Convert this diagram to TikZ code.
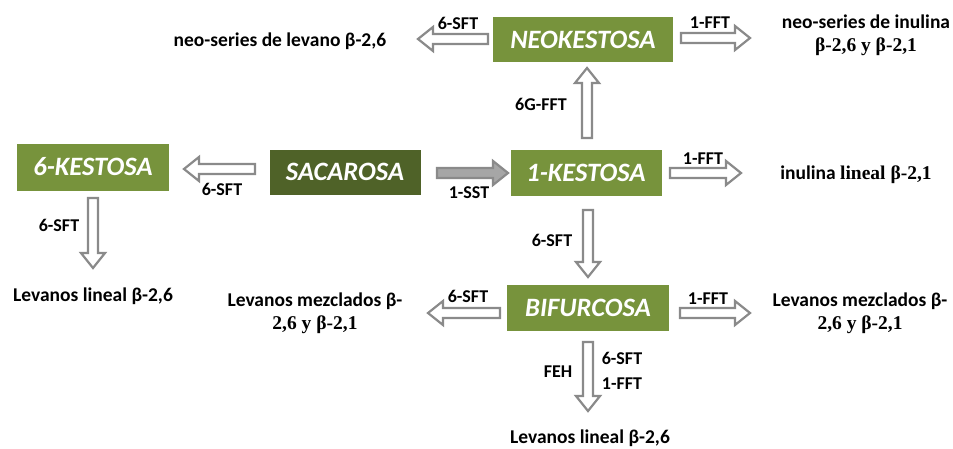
\documentclass[tikz,border=0pt]{standalone}
\usepackage{fontspec}
\setmainfont{Carlito}
\newfontfamily\serifb{Liberation Serif}
\usetikzlibrary{calc}
\definecolor{lgreen}{HTML}{77933C}
\definecolor{dgreen}{HTML}{4F6228}
\definecolor{agray}{HTML}{8A8A8A}
\definecolor{afill}{HTML}{A6A6A6}
\newcommand{\blockarrow}[3][]{%
  \draw[barrow,#1] let \p1=(#2), \p2=(#3),
    \n1={atan2(\y2-\y1,\x2-\x1)}, \n2={veclen(\x2-\x1,\y2-\y1)} in
    [shift={(\p1)}, rotate=\n1]
    (0,-5) -- (\n2-15,-5) -- (\n2-15,-12) -- (\n2,0) -- (\n2-15,12) -- (\n2-15,5) -- (0,5) -- cycle;}
\begin{document}
\begin{tikzpicture}[x=1pt,y=-1pt,
  box/.style={fill=lgreen, text=white, font=\bfseries\itshape\fontsize{26.5}{28}\selectfont, inner sep=0pt},
  dbox/.style={box, fill=dgreen},
  lab/.style={font=\bfseries\fontsize{18}{20}\selectfont, inner sep=0pt},
  txt/.style={font=\bfseries\fontsize{19.5}{23}\selectfont, inner sep=0pt, align=center},
  barrow/.style={draw=agray, line width=2.2pt, fill=white, line join=miter},
  farrow/.style={fill=afill}]
\useasboundingbox (0,0) rectangle (953,448);
% boxes
\node[box, minimum width=180pt, minimum height=45pt] (neo) at (583,39.5) {NEOKESTOSA};
\node[box, minimum width=152pt, minimum height=47pt] (k6) at (93,167) {6-KESTOSA};
\node[dbox, minimum width=151pt, minimum height=45pt] (sac) at (345,172) {SACAROSA};
\node[box, minimum width=151pt, minimum height=46pt] (k1) at (586,173) {1-KESTOSA};
\node[box, minimum width=162pt, minimum height=46pt] (bif) at (588,308) {BIFURCOSA};
% texts
\node[txt] (tneo6) at (280,41) {neo-series de levano β-2,6};
\node[txt] (tneo1) at (866,35) {neo-series de inulina\\{\serifb\bfseries β-2,6 y β-2,1}};
\node[txt] (tinu) at (856,175) {inulina {\serifb\bfseries lineal β-2,1}};
\node[txt] (tlev6) at (93,296) {Levanos lineal β-2,6};
\node[txt] (tmixl) at (315,313) {Levanos mezclados β-\\{\serifb\bfseries 2,6 y β-2,1}};
\node[txt] (tmixr) at (860,313) {Levanos mezclados β-\\{\serifb\bfseries 2,6 y β-2,1}};
\node[txt] (tlevb) at (590,438) {Levanos lineal β-2,6};
% arrow end points
\coordinate (a1s) at (488,39);  \coordinate (a1e) at (418,39);
\coordinate (a2s) at (681,38);  \coordinate (a2e) at (750,38);
\coordinate (a3s) at (587,138); \coordinate (a3e) at (587,68);
\coordinate (a4s) at (255,169); \coordinate (a4e) at (184,169);
\coordinate (a5s) at (437,173); \coordinate (a5e) at (508,173);
\coordinate (a6s) at (670,173); \coordinate (a6e) at (741,173);
\coordinate (a7s) at (93,198);  \coordinate (a7e) at (93,268);
\coordinate (a8s) at (588,210); \coordinate (a8e) at (588,277);
\coordinate (a9s) at (500,313); \coordinate (a9e) at (428,313);
\coordinate (a10s) at (680,313); \coordinate (a10e) at (750,313);
\coordinate (a11s) at (588,342); \coordinate (a11e) at (588,411);
\blockarrow{a1s}{a1e}
\blockarrow{a2s}{a2e}
\blockarrow{a3s}{a3e}
\blockarrow{a4s}{a4e}
\blockarrow[farrow]{a5s}{a5e}
\blockarrow{a6s}{a6e}
\blockarrow{a7s}{a7e}
\blockarrow{a8s}{a8e}
\blockarrow{a9s}{a9e}
\blockarrow{a10s}{a10e}
\blockarrow{a11s}{a11e}
% labels
\node[lab] (l1) at (458,23) {6-SFT};
\node[lab] (l2) at (710,23) {1-FFT};
\node[lab] (l3) at (541,104) {6G-FFT};
\node[lab] (l4) at (222,189) {6-SFT};
\node[lab] (l5) at (469,193) {1-SST};
\node[lab] (l6) at (703,159) {1-FFT};
\node[lab] (l7) at (59,225) {6-SFT};
\node[lab] (l8) at (552,240) {6-SFT};
\node[lab] (l9) at (468,296) {6-SFT};
\node[lab] (l10) at (708,299) {1-FFT};
\node[lab] (l11) at (558,372) {FEH};
\node[lab] (l12) at (622,358) {6-SFT};
\node[lab] (l13) at (622,384) {1-FFT};
\end{tikzpicture}
\end{document}
